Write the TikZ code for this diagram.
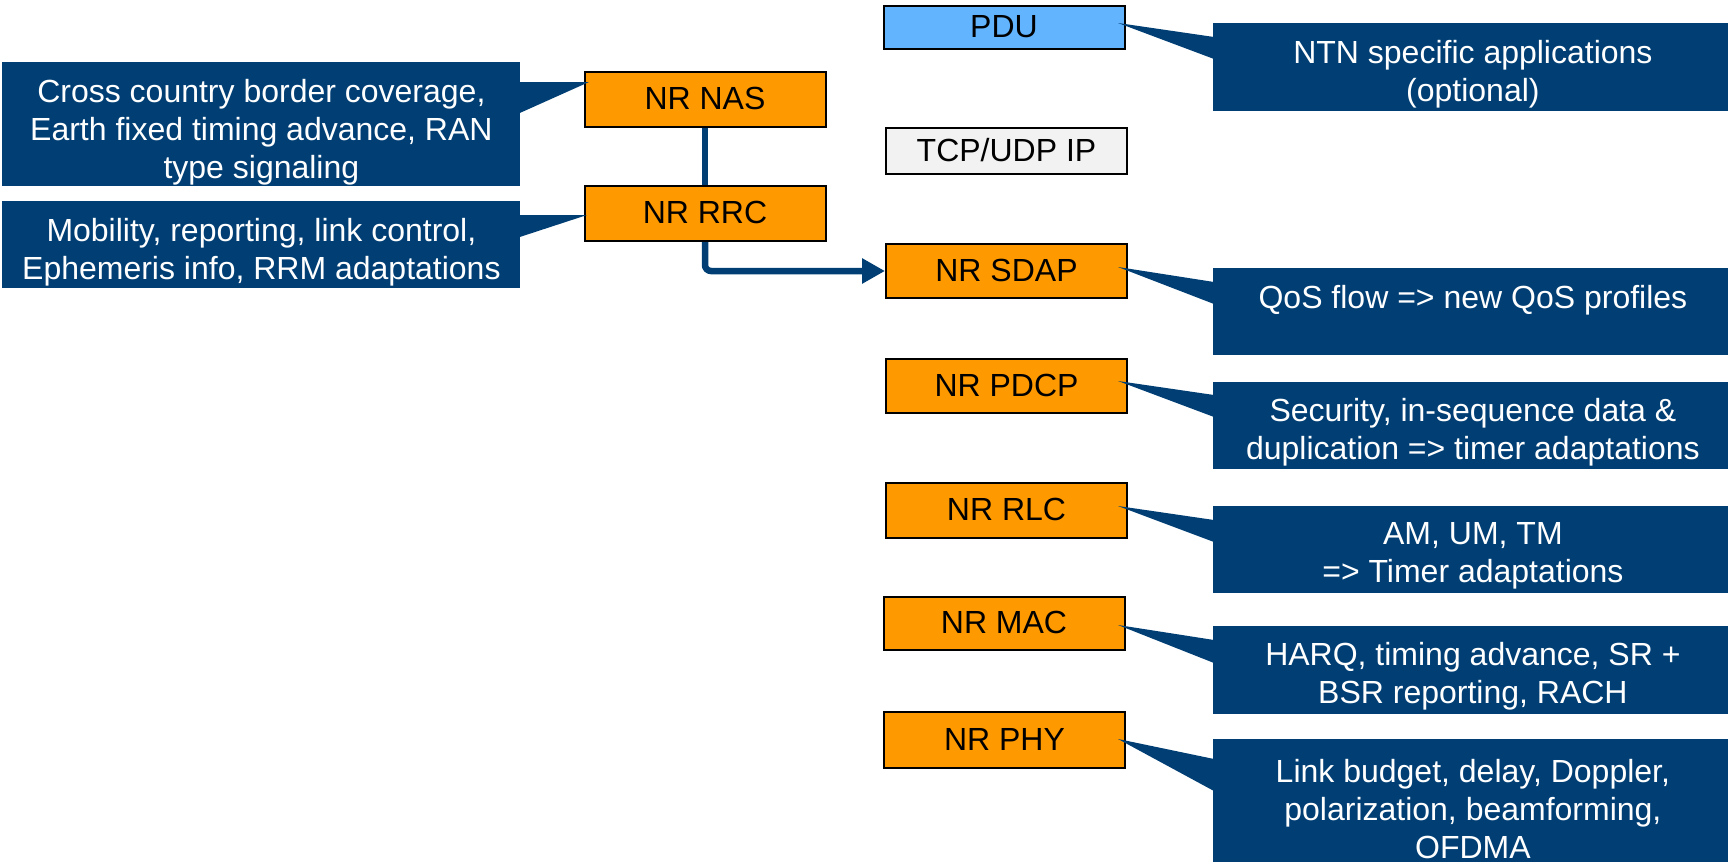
\documentclass[tikz,border=0pt]{standalone}
\usepackage{fontspec}
\setmainfont{Liberation Sans}
\usetikzlibrary{arrows.meta,calc}
\definecolor{navy}{HTML}{003E74}
\definecolor{layerorange}{HTML}{FF9900}
\definecolor{pdublue}{HTML}{62B4FF}
\definecolor{iplight}{HTML}{F2F2F2}
\begin{document}
\begin{tikzpicture}[x=0.5pt,y=-0.5pt,
  layer/.style={draw=black,line width=1pt,inner sep=0pt,minimum width=120.5pt,
    text height=1.1em,text depth=0.1em,font=\fontsize{16}{19}\selectfont},
  stack/.style={layer,fill=layerorange},
  note/.style={fill=navy,inner sep=0pt,anchor=north west},
  notetext/.style={text=white,align=center,inner sep=0pt,font=\fontsize{16}{19}\selectfont},
  link/.style={draw=navy,line width=3.25pt}]
\useasboundingbox (0,0) rectangle (1728,862);

% protocol layers
\node[stack,minimum height=27.5pt] (nas) at (705,99.5) {NR NAS};
\node[stack,minimum height=27.5pt] (rrc) at (705,213.5) {NR RRC};
\node[layer,fill=pdublue,minimum height=21.5pt] (pdu) at (1004,27.5) {PDU};
\node[layer,fill=iplight,minimum height=23pt] (tcp) at (1006.5,151) {TCP/UDP IP};
\node[stack,minimum height=27pt] (sdap) at (1006.5,271) {NR SDAP};
\node[stack,minimum height=27pt] (pdcp) at (1006.5,386) {NR PDCP};
\node[stack,minimum height=27.5pt] (rlc) at (1006.5,510.5) {NR RLC};
\node[stack,minimum height=26.5pt] (mac) at (1004,623.5) {NR MAC};
\node[stack,minimum height=28pt] (phy) at (1004.5,740) {NR PHY};

% control plane links
\draw[link] (nas) -- (rrc);
\draw[link,rounded corners=3pt,-{Triangle[length=11.5pt,width=12pt]}] (rrc.south) |- (sdap.west);

% pointer tips of the callouts
\coordinate (t1) at (589,82);
\coordinate (t2) at (587,215);
\coordinate (tp) at (1118,23);
\coordinate (ts) at (1118,267);
\coordinate (td) at (1118,381);
\coordinate (tl) at (1118,506);
\coordinate (tm) at (1118,625);
\coordinate (th) at (1118,739);

% left callouts
\node[note,minimum width=259pt,minimum height=62pt] (c1) at (2,62) {};
\fill[navy] ($(c1.north east)+(-1,20)$) -- (t1) -- ($(c1.north east)+(-1,51)$) -- cycle;
\node[notetext] at ($(c1.center)+(0,8)$) {Cross country border coverage,\\Earth fixed timing advance, RAN\\type signaling};

\node[note,minimum width=259pt,minimum height=43.5pt] (c2) at (2,201) {};
\fill[navy] ($(c2.north east)+(-1,14)$) -- (t2) -- ($(c2.north east)+(-1,36)$) -- cycle;
\node[notetext] at ($(c2.center)+(0,7)$) {Mobility, reporting, link control,\\Ephemeris info, RRM adaptations};

% right callouts
\node[note,minimum width=257.5pt,minimum height=44pt] (cp) at (1213,23) {};
\fill[navy] ($(cp.north west)+(1,14)$) -- (tp) -- ($(cp.north west)+(1,36)$) -- cycle;
\node[notetext] at ($(cp.center)+(2,7)$) {NTN specific applications\\(optional)};

\node[note,minimum width=257.5pt,minimum height=43.5pt] (cs) at (1213,268) {};
\fill[navy] ($(cs.north west)+(1,14)$) -- (ts) -- ($(cs.north west)+(1,36)$) -- cycle;
\node[notetext] at ($(cs.center)+(2,-12)$) {QoS flow => new QoS profiles};

\node[note,minimum width=257.5pt,minimum height=43.5pt] (cd) at (1213,382) {};
\fill[navy] ($(cd.north west)+(1,13)$) -- (td) -- ($(cd.north west)+(1,35)$) -- cycle;
\node[notetext] at ($(cd.center)+(2,6)$) {Security, in-sequence data \&\\duplication => timer adaptations};

\node[note,minimum width=257.5pt,minimum height=43.5pt] (cl) at (1213,506) {};
\fill[navy] ($(cl.north west)+(1,14)$) -- (tl) -- ($(cl.north west)+(1,36)$) -- cycle;
\node[notetext] at ($(cl.center)+(2,6)$) {AM, UM, TM\\=> Timer adaptations};

\node[note,minimum width=257.5pt,minimum height=44pt] (cm) at (1213,626) {};
\fill[navy] ($(cm.north west)+(1,14)$) -- (tm) -- ($(cm.north west)+(1,37)$) -- cycle;
\node[notetext] at ($(cm.center)+(2,6)$) {HARQ, timing advance, SR +\\BSR reporting, RACH};

\node[note,minimum width=257.5pt,minimum height=61.5pt] (ch) at (1213,739) {};
\fill[navy] ($(ch.north west)+(1,20)$) -- (th) -- ($(ch.north west)+(1,52)$) -- cycle;
\node[notetext] at ($(ch.center)+(2,8)$) {Link budget, delay, Doppler,\\polarization, beamforming,\\OFDMA};
\end{tikzpicture}
\end{document}
